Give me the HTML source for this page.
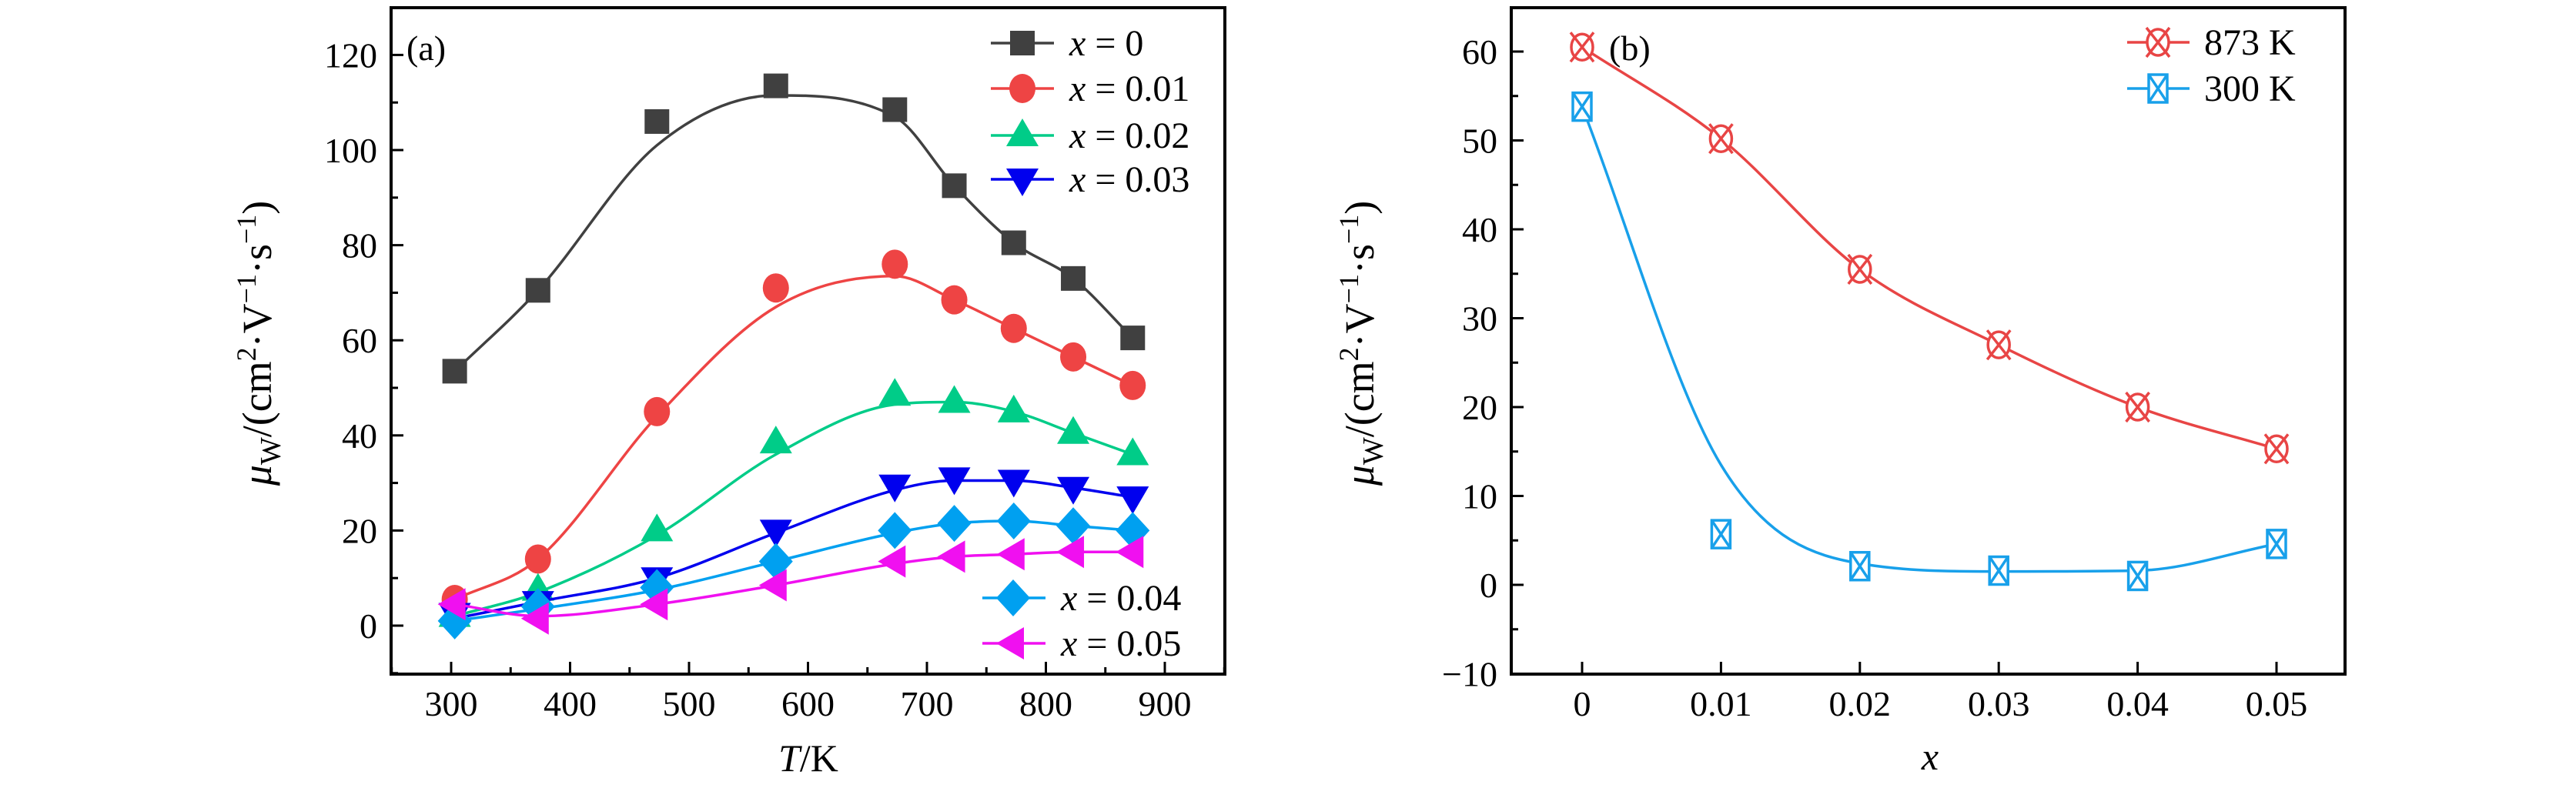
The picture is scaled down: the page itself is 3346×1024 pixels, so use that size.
<!DOCTYPE html>
<html><head><meta charset="utf-8">
<style>
html,body{margin:0;padding:0;background:#fff;}
svg{display:block;}
text{font-family:"Liberation Serif",serif;fill:#000;}
</style></head>
<body>
<svg id="chart" width="3346" height="1024" viewBox="0 0 3346 1024" xmlns="http://www.w3.org/2000/svg">
<g id="pa"></g>
<g id="pb"></g>
</svg>
<script>
// ---- Panel (a) data ----
const tempsA = [303,373,473,573,673,723,773,823,873];
const seriesNamesA = ["x = 0","x = 0.01","x = 0.02","x = 0.03","x = 0.04","x = 0.05"];
const vals0  = [53.5,70.5,106,113.5,108.5,92.5,80.5,73,60.5];
const vals01 = [5.5,14,45,71,76,68.5,62.5,56.5,50.5];
const vals02 = [2,7.5,20,38.5,48.5,47,45,40.5,36];
const vals03 = [2.5,5,10,20,29.5,31,30.5,29,27];
const vals04 = [1,4,8,13.5,20,21.5,22,21,20];
const vals05 = [4.5,1.5,4.5,8.5,13.5,14.5,15,15.5,15.5];
const fit0  = [53.5,70.5,101,111.5,107,92.5,80.5,73,60.5];
const fit01 = [5.5,14,44,67,73.5,68.5,62.5,56.5,50.5];
const fit02 = [2,7,19,36,46.5,47,45,40.5,36];
const fit03 = [1.5,5,10,19.5,28.5,30.5,30.5,29,27];
const fit04 = [1,3.5,7.5,13.5,19.5,21.5,22,21,20];
const fit05 = [4.5,2,4.5,8.5,13,14.5,15,15.5,15.5];
const xTicksA = [300,400,500,600,700,800,900];
const yTicksA = [0,20,40,60,80,100,120];
// ---- Panel (b) data ----
const xB = [0,0.01,0.02,0.03,0.04,0.05];
const xTickLabelsB = ["0","0.01","0.02","0.03","0.04","0.05"];
const vals873 = [60.5,50.2,35.5,27,20,15.3];
const vals300 = [53.8,5.7,2.1,1.6,1,4.6];
const fit873 = [60.5,50.2,35.5,27,20,15.3];
const fit300 = [53.8,13.5,2.4,1.5,1.6,4.6];
const yTicksB = [-10,0,10,20,30,40,50,60];

const NS="http://www.w3.org/2000/svg";
function mk(parent,tag,attrs){const e=document.createElementNS(NS,tag);for(const k in attrs)e.setAttribute(k,attrs[k]);parent.appendChild(e);return e;}

function monotone(xs,ys){
  const n=xs.length,d=[],m=[];
  for(let i=0;i<n-1;i++)d.push((ys[i+1]-ys[i])/(xs[i+1]-xs[i]));
  m[0]=d[0];m[n-1]=d[n-2];
  for(let i=1;i<n-1;i++){ if(d[i-1]*d[i]<=0)m[i]=0; else m[i]=(d[i-1]+d[i])/2;}
  for(let i=0;i<n-1;i++){ if(d[i]===0){m[i]=0;m[i+1]=0;continue;}
    const a=m[i]/d[i],b=m[i+1]/d[i],s=a*a+b*b; if(s>9){const t=3/Math.sqrt(s);m[i]=t*a*d[i];m[i+1]=t*b*d[i];}}
  let p="M"+xs[0]+","+ys[0];
  for(let i=0;i<n-1;i++){const h=(xs[i+1]-xs[i])/3;
    p+=" C"+(xs[i]+h)+","+(ys[i]+m[i]*h)+" "+(xs[i+1]-h)+","+(ys[i+1]-m[i+1]*h)+" "+xs[i+1]+","+ys[i+1];}
  return p;
}

function marker(g,type,cx,cy,color){
  let e;
  if(type==="square") e=mk(g,"rect",{x:cx-16,y:cy-16,width:32,height:32,fill:color});
  else if(type==="circle") e=mk(g,"ellipse",{cx:cx,cy:cy,rx:17,ry:19,fill:color});
  else if(type==="up") e=mk(g,"polygon",{points:`${cx},${cy-22} ${cx+21},${cy+14} ${cx-21},${cy+14}`,fill:color});
  else if(type==="down") e=mk(g,"polygon",{points:`${cx},${cy+22} ${cx+21},${cy-14} ${cx-21},${cy-14}`,fill:color});
  else if(type==="diamond") e=mk(g,"polygon",{points:`${cx},${cy-24} ${cx+22},${cy} ${cx},${cy+24} ${cx-22},${cy}`,fill:color});
  else if(type==="left") e=mk(g,"polygon",{points:`${cx-22},${cy} ${cx+14},${cy-21} ${cx+14},${cy+21}`,fill:color});
  else if(type==="ocross"){ e=mk(g,"g",{});
    mk(e,"ellipse",{cx:cx,cy:cy,rx:14,ry:17,fill:"#fff",stroke:color,"stroke-width":3.5});
    mk(e,"path",{d:`M${cx-15},${cy-19} L${cx+15},${cy+19} M${cx+15},${cy-19} L${cx-15},${cy+19}`,stroke:color,"stroke-width":3.5});}
  else if(type==="sqcross"){ e=mk(g,"g",{});
    mk(e,"rect",{x:cx-12,y:cy-18,width:24,height:36,fill:"#fff",stroke:color,"stroke-width":3.5});
    mk(e,"path",{d:`M${cx-12},${cy-18} L${cx+12},${cy+18} M${cx+12},${cy-18} L${cx-12},${cy+18}`,stroke:color,"stroke-width":3.5});}
  
  
  return e;
}

function frame(g,x0,y0,x1,y1){
  const r=mk(g,"rect",{x:x0,y:y0,width:x1-x0,height:y1-y0,fill:"none",stroke:"#000","stroke-width":4});
  
  
}
function ytitle(g,x,y){
  const t=mk(g,"text",{x:0,y:0,transform:`translate(${x},${y}) rotate(-90)`,"text-anchor":"middle","font-size":54});
  
  
  t.innerHTML='<tspan font-style="italic">μ</tspan><tspan font-size="38" dy="12">W</tspan><tspan dy="-12">/(cm</tspan><tspan font-size="36" dy="-20">2</tspan><tspan dy="20">·V</tspan><tspan font-size="36" dy="-20">−1</tspan><tspan dy="20">·s</tspan><tspan font-size="36" dy="-20">−1</tspan><tspan dy="20">)</tspan>';
}

// ===== Panel A =====
(function(){
  const g=document.getElementById('pa');
  const L=508,R=1591,T=10,B=876;
  const sx=v=>586+(v-300)*1.545;
  const sy=v=>813-v*6.18;
  frame(g,L,T,R,B);
  for(let v=250;v<=950;v+=50){const X=sx(v); if(X<=L||X>=R)continue;
    const major=v%100===0;
    const tk=mk(g,"line",{x1:X,x2:X,y1:B,y2:B-(major?16:9),stroke:"#000","stroke-width":3});
    
    }
  xTicksA.forEach(v=>{const t=mk(g,"text",{x:sx(v),y:930,"text-anchor":"middle","font-size":46});t.textContent=v;
    
    });
  for(let v=-10;v<=130;v+=10){const Y=sy(v); if(Y<=T||Y>=B)continue;
    const major=v%20===0;
    const tk=mk(g,"line",{x1:L,x2:L+(major?16:9),y1:Y,y2:Y,stroke:"#000","stroke-width":3});
    
    }
  yTicksA.forEach(v=>{const t=mk(g,"text",{x:L-18,y:sy(v)+16,"text-anchor":"end","font-size":46});t.textContent=v;
    
    });
  const xt=mk(g,"text",{x:1050,y:1002,"text-anchor":"middle","font-size":50});
  xt.innerHTML='<tspan font-style="italic">T</tspan>/K';
  
  
  ytitle(g,352,446);
  const lab=mk(g,"text",{x:528,y:78,"font-size":46});lab.textContent="(a)";
  
  

  const series=[
    {v:vals0,f:fit0,c:"#404040",m:"square"},
    {v:vals01,f:fit01,c:"#ee4444",m:"circle"},
    {v:vals02,f:fit02,c:"#00cc88",m:"up"},
    {v:vals03,f:fit03,c:"#0000ee",m:"down"},
    {v:vals04,f:fit04,c:"#00a0f0",m:"diamond"},
    {v:vals05,f:fit05,c:"#f010f0",m:"left"}];
  const xs=tempsA.map(sx);
  series.forEach((s,i)=>{
    const sg=mk(g,"g",{});
    
    
    const p=mk(sg,"path",{d:monotone(xs,s.f.map(sy)),fill:"none",stroke:s.c,"stroke-width":3.5});
    
    
    s.v.forEach((v,j)=>marker(sg,s.m,xs[j],sy(v),s.c));
  });
  const legPos=[[1287,1328,1389,56],[1287,1328,1389,115],[1287,1328,1389,176],[1287,1328,1389,233],[1276,1316,1378,777],[1276,1316,1378,836]];
  series.forEach((s,i)=>{
    const [lx,mx,tx,ly]=legPos[i];
    const lg=mk(g,"g",{});
    
    
    mk(lg,"line",{x1:lx,x2:lx+82,y1:ly,y2:ly,stroke:s.c,"stroke-width":3.5});
    marker(lg,s.m,mx,ly,s.c);
    const t=mk(lg,"text",{x:tx,y:ly+16,"font-size":48});
    const parts=seriesNamesA[i].split(" = ");
    t.innerHTML='<tspan font-style="italic">x</tspan> = '+parts[1];
  });
})();

// ===== Panel B =====
(function(){
  const g=document.getElementById('pb');
  const L=1963,R=3046,T=10,B=876;
  const sx=v=>2055+v*18040;
  const sy=v=>760-v*11.55;
  frame(g,L,T,R,B);
  xB.forEach((v,i)=>{const X=sx(v);
    const tk=mk(g,"line",{x1:X,x2:X,y1:B,y2:B-16,stroke:"#000","stroke-width":3});
    
    
    const t=mk(g,"text",{x:X,y:930,"text-anchor":"middle","font-size":46});t.textContent=xTickLabelsB[i];
    
    });
  for(let v=-10;v<=65;v+=5){const Y=sy(v); if(Y<=T||Y>=B)continue;
    const major=v%10===0;
    const tk=mk(g,"line",{x1:L,x2:L+(major?16:9),y1:Y,y2:Y,stroke:"#000","stroke-width":3});
    
    }
  yTicksB.forEach(v=>{const t=mk(g,"text",{x:L-18,y:sy(v)+16,"text-anchor":"end","font-size":46});t.textContent=v<0?"−"+(-v):v;
    
    });
  const xt=mk(g,"text",{x:2507,y:1000,"text-anchor":"middle","font-size":50,"font-style":"italic"});xt.textContent="x";
  
  
  ytitle(g,1784,446);
  const lab=mk(g,"text",{x:2090,y:78,"font-size":46});lab.textContent="(b)";
  
  
  const xs=xB.map(sx);
  const series=[{v:vals873,f:fit873,c:"#e84545",m:"ocross",n:"873 K",ly:55},{v:vals300,f:fit300,c:"#18a0ea",m:"sqcross",n:"300 K",ly:115}];
  series.forEach(s=>{
    const sg=mk(g,"g",{});
    
    
    const p=mk(sg,"path",{d:monotone(xs,s.f.map(sy)),fill:"none",stroke:s.c,"stroke-width":3.5});
    
    
    s.v.forEach((v,j)=>marker(sg,s.m,xs[j],sy(v),s.c));
    const lg=mk(g,"g",{});
    
    
    mk(lg,"line",{x1:2763,x2:2844,y1:s.ly,y2:s.ly,stroke:s.c,"stroke-width":3.5});
    marker(lg,s.m,2803,s.ly,s.c);
    const t=mk(lg,"text",{x:2863,y:s.ly+16,"font-size":48});t.textContent=s.n;
  });
})();
</script>
</body></html>
